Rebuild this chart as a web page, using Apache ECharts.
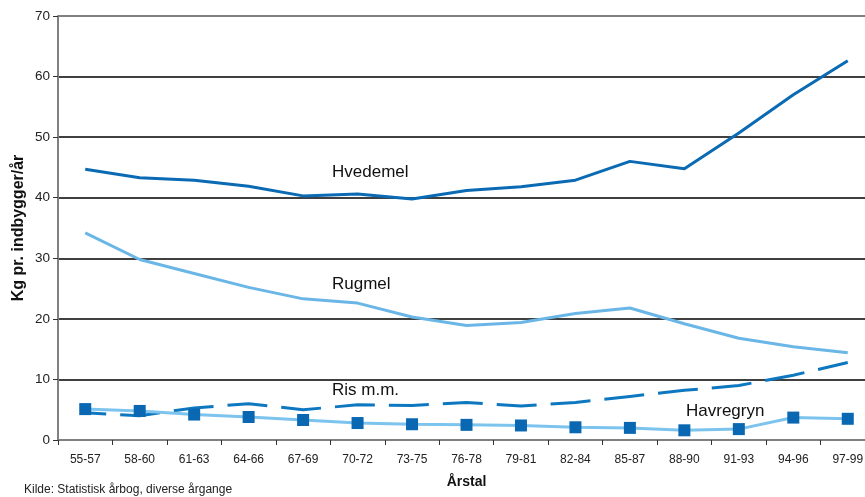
<!DOCTYPE html>
<html>
<head>
<meta charset="utf-8">
<script src="https://cdn.jsdelivr.net/npm/echarts@6/dist/echarts.min.js"></script>
<style>
  html, body { margin: 0; padding: 0; background: #fff; overflow: hidden; }
  /* plot runs a little past the right edge of the picture, as in the original */
  #chart { width: 875px; height: 497px; }
</style>
</head>
<body>
<div id="chart"></div>
<script>
// forbrug af mel og gryn, kg pr. indbygger/år
const years = ["55-57", "58-60", "61-63", "64-66", "67-69", "70-72", "73-75", "76-78", "79-81", "82-84", "85-87", "88-90", "91-93", "94-96", "97-99"];
const hvedemel = [44.7, 43.3, 42.9, 41.9, 40.3, 40.6, 39.8, 41.2, 41.8, 42.9, 46.0, 44.8, 50.7, 57.0, 62.6];
const rugmel = [34.2, 29.8, 27.5, 25.2, 23.3, 22.6, 20.3, 18.9, 19.4, 20.9, 21.8, 19.2, 16.8, 15.4, 14.4];
const ris = [4.5, 4.0, 5.3, 6.0, 5.0, 5.8, 5.7, 6.2, 5.6, 6.2, 7.2, 8.2, 9.0, 10.7, 12.8];
const havregryn = [5.1, 4.8, 4.2, 3.8, 3.3, 2.8, 2.6, 2.5, 2.4, 2.1, 2.0, 1.6, 1.8, 3.7, 3.5];

const font = "Liberation Sans, Arial, sans-serif";
const chart = echarts.init(document.getElementById("chart"), null, { renderer: "canvas" });

chart.setOption({
  animation: false,
  grid: { left: 58, right: 0, top: 16, bottom: 57 },
  xAxis: {
    type: "category", data: years, boundaryGap: true,
    name: "Årstal", nameLocation: "middle", nameGap: 35,
    nameTextStyle: { fontFamily: font, fontWeight: "bold", fontSize: 14, color: "#111" },
    axisLine: { lineStyle: { color: "#808080", width: 2 } },
    axisTick: { show: true, length: 5, lineStyle: { color: "#333" } },
    axisLabel: { fontFamily: font, fontSize: 12, color: "#222", margin: 14 },
  },
  yAxis: {
    type: "value", min: 0, max: 70, interval: 10,
    name: "Kg pr. indbygger/år", nameLocation: "middle", nameGap: 31, nameMoveOverlap: false,
    nameTextStyle: { fontFamily: font, fontWeight: "bold", fontSize: 16, color: "#111" },
    axisLine: { show: true, lineStyle: { color: "#808080", width: 2 } },
    axisTick: { show: true, length: 5, lineStyle: { color: "#333" } },
    axisLabel: { fontFamily: font, fontSize: 13.5, color: "#222", margin: 8 },
    splitLine: { lineStyle: { color: "#000", width: 1.5 } },
  },
  series: [
    { name: "Hvedemel", type: "line", data: hvedemel, symbol: "none", lineStyle: { color: "#0a6ab3", width: 3 } },
    { name: "Rugmel", type: "line", data: rugmel, symbol: "none", lineStyle: { color: "#6ab6e6", width: 3 } },
    { name: "Ris m.m.", type: "line", data: ris, symbol: "none",
      lineStyle: { color: "#0d78c0", width: 3, type: [40, 14], dashOffset: 19 } },
    { name: "Havregryn", type: "line", data: havregryn, symbol: "rect", symbolSize: 12,
      itemStyle: { color: "#0a68b2" }, lineStyle: { color: "#7cc4ee", width: 3 } },
    // grey top border at 70
    { type: "line", data: [], silent: true,
      markLine: { silent: true, symbol: "none", label: { show: false },
        lineStyle: { color: "#808080", width: 2, type: "solid" }, data: [{ yAxis: 70 }] } },
  ],
  graphic: [
    { type: "text", left: 332, top: 164, style: { text: "Hvedemel", font: "17px " + font, fill: "#111" } },
    { type: "text", left: 332, top: 276, style: { text: "Rugmel", font: "17px " + font, fill: "#111" } },
    { type: "text", left: 332, top: 382, style: { text: "Ris m.m.", font: "17px " + font, fill: "#111" } },
    { type: "text", left: 686, top: 403, style: { text: "Havregryn", font: "17px " + font, fill: "#111" } },
    { type: "text", left: 24, top: 484, style: { text: "Kilde: Statistisk årbog, diverse årgange", font: "12px " + font, fill: "#222" } },
  ],
});
</script>
</body>
</html>
